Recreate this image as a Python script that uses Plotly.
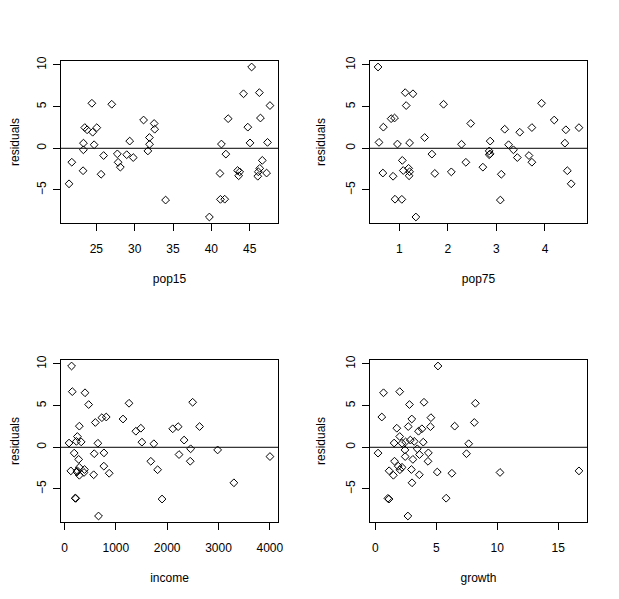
import plotly.graph_objects as go

# LifeCycleSavings: predictors and residuals of lm(sr ~ pop15 + pop75 + dpi + ddpi)
pop15 = [29.35, 23.32, 23.80, 41.89, 42.19, 31.72, 39.74, 44.75, 46.64, 47.64,
         24.42, 46.31, 27.84, 25.06, 23.31, 25.62, 46.05, 47.32, 34.03, 41.31,
         31.16, 24.52, 27.01, 41.74, 21.80, 32.54, 25.95, 24.71, 32.61, 45.04,
         43.56, 41.18, 44.19, 46.26, 28.96, 31.94, 31.92, 27.74, 21.44, 23.49,
         43.42, 46.12, 23.27, 29.81, 46.40, 45.25, 41.12, 28.13, 43.69, 47.20]
pop75 = [2.87, 4.41, 4.43, 1.67, 0.83, 2.85, 1.34, 0.67, 1.06, 1.14,
         3.93, 1.19, 2.37, 4.70, 3.35, 3.10, 0.87, 0.58, 3.08, 0.96,
         4.19, 3.48, 1.91, 0.91, 3.73, 2.47, 3.67, 3.25, 3.17, 1.21,
         1.20, 1.05, 1.28, 1.12, 2.85, 2.28, 1.52, 2.87, 4.54, 3.73,
         1.08, 1.21, 4.46, 3.43, 0.90, 0.56, 1.73, 2.72, 2.07, 0.66]
income = [2329.68, 1507.99, 2108.47, 189.13, 728.47, 2982.88, 662.86, 289.52, 276.65, 471.24,
          2496.53, 287.77, 1681.25, 2213.82, 2457.12, 870.85, 289.71, 232.44, 1900.10, 88.94,
          1139.95, 1390.00, 1257.28, 207.68, 2449.39, 601.05, 2231.03, 1740.70, 1487.52, 325.54,
          568.56, 220.56, 400.06, 152.01, 579.51, 651.11, 250.96, 768.79, 3299.49, 2630.96,
          389.66, 249.87, 1813.93, 4001.89, 813.39, 138.33, 380.47, 766.54, 123.58, 242.69]
growth = [2.87, 3.93, 3.82, 0.22, 4.56, 2.43, 2.67, 6.51, 3.08, 2.80,
          3.99, 2.19, 4.32, 4.52, 3.44, 6.28, 1.48, 3.19, 1.12, 1.54,
          2.99, 3.54, 8.21, 5.81, 1.57, 8.12, 3.62, 7.66, 1.76, 2.48,
          3.61, 1.03, 0.67, 2.00, 7.48, 2.19, 2.00, 4.35, 3.01, 2.70,
          2.96, 1.13, 2.01, 2.45, 0.53, 5.14, 10.23, 1.88, 16.71, 5.08]
residuals = [0.8636, 0.6164, 2.2190, -0.6983, 3.5528, -0.3169, -8.2422, 2.5360, -1.4517, 5.1251,
             5.4002, -2.4056, -1.6811, 2.4755, -0.1807, -3.1162, -3.3553, 0.7100, -6.2106, 0.5087,
             3.3911, 1.9268, 5.2815, -6.1070, -1.6708, 2.9749, -0.8718, 0.4255, 2.2856, 0.6464,
             -3.2942, -6.1256, 6.5394, 6.6750, -0.7684, 0.4832, 1.2914, -0.6712, -4.2603, 2.4868,
             -2.6656, -2.8179, -2.6924, -1.1116, 3.6325, 9.7509, -3.0185, -2.2642, -2.8295, -2.9709]

panels = [("pop15", pop15, [25, 30, 35, 40, 45]),
          ("pop75", pop75, [1, 2, 3, 4]),
          ("income", income, [0, 1000, 2000, 3000, 4000]),
          ("growth", growth, [0, 5, 10, 15])]
y_ticks = [-5, 0, 5, 10]

# page is 619x599; the page body has an 8px margin, so the figure starts at (8, 8)
PW, PH, OFF = 619, 599, 8
W, H = PW - OFF, PH - OFF

def xd(a, b):
    return ((a - OFF) / W, (b - OFF) / W)

def yd(top, bottom):
    return ((PH - bottom) / H, (PH - top) / H)

xdoms = [xd(61, 278), xd(370, 587)]
ydoms = [yd(61, 223), yd(360, 522)]

def padded(v):
    lo, hi = min(v), max(v)
    d = (hi - lo) * 0.04
    return [lo - d, hi + d]

font = dict(family="Liberation Sans, Arial, sans-serif", size=12, color="black")
fig = go.Figure()
layout = dict(width=W, height=H, margin=dict(l=0, r=0, t=0, b=0, autoexpand=False),
              paper_bgcolor="white", plot_bgcolor="white", showlegend=False,
              font=font, shapes=[])
axstyle = dict(showgrid=False, zeroline=False, showline=True, mirror=True,
               linecolor="black", linewidth=1, ticks="outside", ticklen=7,
               tickcolor="black", tickwidth=1, tickfont=font, automargin=False)
for i, (name, xv, xt) in enumerate(panels):
    r, c = divmod(i, 2)
    sfx = "" if i == 0 else str(i + 1)
    fig.add_trace(go.Scatter(x=xv, y=residuals, mode="markers",
                             xaxis="x" + sfx, yaxis="y" + sfx,
                             marker=dict(symbol="diamond-open", size=6,
                                         color="black", line=dict(width=1, color="black"))))
    layout["xaxis" + sfx] = dict(axstyle, domain=xdoms[c], anchor="y" + sfx,
                                 range=padded(xv), tickvals=xt, ticklabelstandoff=8,
                                 title=dict(text=name, font=font, standoff=19))
    layout["yaxis" + sfx] = dict(axstyle, domain=ydoms[r], anchor="x" + sfx,
                                 range=padded(residuals), tickvals=y_ticks,
                                 tickangle=-90, ticklabelstandoff=2,
                                 title=dict(text="residuals", font=font, standoff=16))
    layout["shapes"].append(dict(type="line", xref="x" + sfx + " domain", yref="y" + sfx,
                                 x0=0, x1=1, y0=0, y1=0,
                                 line=dict(color="black", width=1)))
fig.update_layout(**layout)
fig.write_html("out.html")
